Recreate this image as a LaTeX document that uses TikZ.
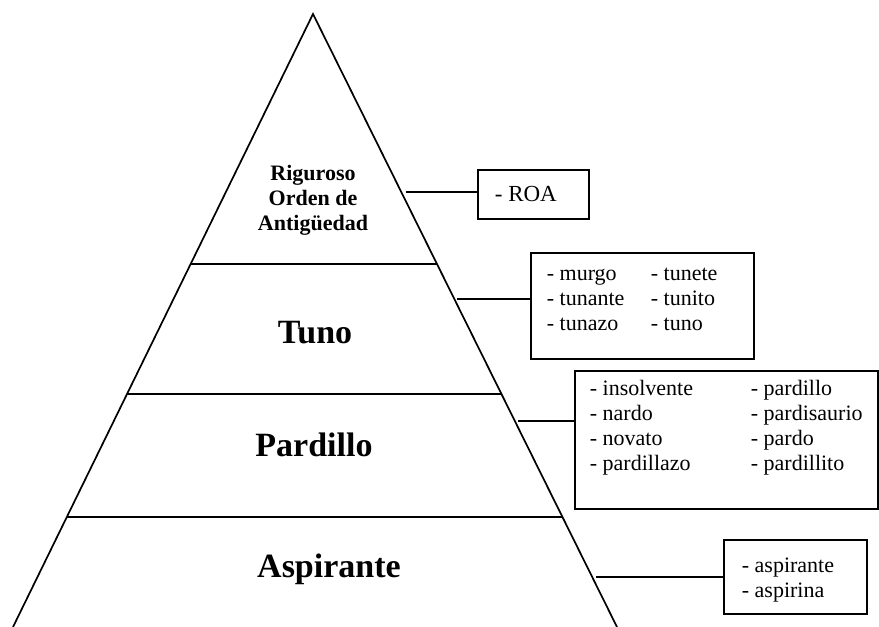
\documentclass[tikz,border=0pt]{standalone}
\usepackage{fontspec}
\setmainfont{Liberation Serif}
\usetikzlibrary{calc}

\begin{document}
\begin{tikzpicture}[x=1pt,y=-1pt,line width=1.7pt,
    tier/.style={font=\bfseries\fontsize{34}{38}\selectfont,inner sep=0pt,anchor=base},
    listbox/.style={draw,rectangle,anchor=north west,inner sep=0pt},
    item/.style={font=\fontsize{22}{24.8}\selectfont,inner sep=0pt,anchor=base west,align=left}]
  \useasboundingbox (0,0) rectangle (879,627);
  % la piramide
  \coordinate (apex) at (313,14);
  \coordinate (bl) at (13,627);
  \coordinate (br) at (617,627);
  \draw[line join=miter] (bl)--(apex)--(br);
  % las divisiones
  \draw (190.7,264)--(437,264);
  \draw (127,394)--(501.5,394);
  \draw (66.8,517)--(562.5,517);
  % los niveles (base = ultima linea)
  \node[tier,font=\bfseries\fontsize{22}{25}\selectfont,align=center] (roa) at (313,230)
    {Riguroso\\Orden de\\Antigüedad};
  \node[tier] (tuno) at (315,343) {Tuno};
  \node[tier] (pardillo) at (314,456) {Pardillo};
  \node[tier] (aspirante) at (329,577) {Aspirante};
  % los cuadros
  \node[listbox,minimum width=111pt,minimum height=49pt] (roaBox) at (477,169) {};
  \node[listbox,minimum width=223pt,minimum height=106pt] (tunoBox) at (530,252) {};
  \node[listbox,minimum width=303pt,minimum height=138pt] (pardBox) at (574,370) {};
  \node[listbox,minimum width=143pt,minimum height=74pt] (aspBox) at (723,539) {};
  % los nombres
  \node[item,font=\fontsize{23}{25}\selectfont] (roaList) at (494,201) {- ROA};
  \node[item] (tunoListA) at (546,330) {- murgo\\- tunante\\- tunazo};
  \node[item] (tunoListB) at (650,330) {- tunete\\- tunito\\- tuno};
  \node[item] (pardListA) at (589,470) {- insolvente\\- nardo\\- novato\\- pardillazo};
  \node[item] (pardListB) at (750,470) {- pardillo\\- pardisaurio\\- pardo\\- pardillito};
  \node[item] (aspList) at (741,597) {- aspirante\\- aspirina};
  % las lineas
  \coordinate (roaEdge) at (406,192);
  \coordinate (tunoEdge) at (457,299);
  \coordinate (pardEdge) at (518,421);
  \coordinate (aspEdge) at (596,577);
  \draw (roaEdge)--(roaEdge -| roaBox.west);
  \draw (tunoEdge)--(tunoEdge -| tunoBox.west);
  \draw (pardEdge)--(pardEdge -| pardBox.west);
  \draw (aspEdge)--(aspEdge -| aspBox.west);
\end{tikzpicture}
\end{document}
